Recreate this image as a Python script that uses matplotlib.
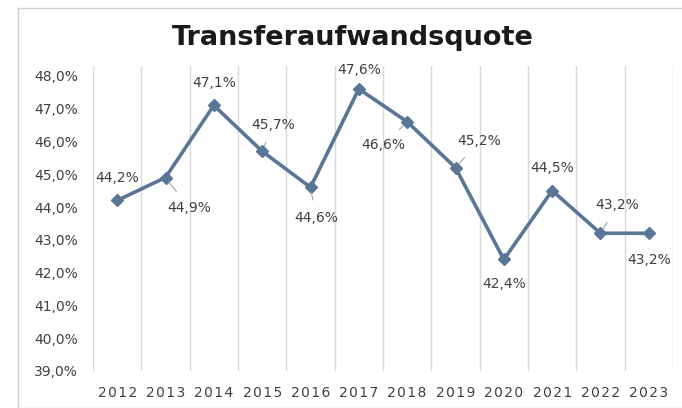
import matplotlib.pyplot as plt
from matplotlib.patches import Rectangle
from matplotlib.ticker import FuncFormatter

# Daten
years = ["2012", "2013", "2014", "2015", "2016", "2017",
         "2018", "2019", "2020", "2021", "2022", "2023"]
quote = [44.2, 44.9, 47.1, 45.7, 44.6, 47.6, 46.6, 45.2, 42.4, 44.5, 43.2, 43.2]
# Label-Versatz in Punkten (dx, dy) und ob eine Führungslinie gezeichnet wird
label_offsets = [(0, 16), (17, -22), (0, 16), (8, 19), (4, -22), (0, 14),
                 (-17, -17), (17, 19), (0, -18), (0, 16), (12, 20), (0, -19)]
leader = [False, True, False, True, True, False,
          True, True, False, False, True, False]

LINE_COLOR = "#5A7696"
TEXT_COLOR = "#404040"
GRID_COLOR = "#D9D9D9"

plt.rcParams["font.family"] = ["DejaVu Sans"]

fig = plt.figure(figsize=(6.82, 4.08), dpi=100)
fig.patches.append(Rectangle((18 / 682, 0), 1, 1 - 8 / 408, transform=fig.transFigure,
                             fill=False, edgecolor="#D0D0D0", linewidth=1))
ax = fig.add_axes([93 / 682, 37 / 408, 580 / 682, (371 - 66) / 408])

x = list(range(len(years)))
ax.plot(x, quote, color=LINE_COLOR, linewidth=2.6, marker="D", markersize=6,
        markerfacecolor=LINE_COLOR, markeredgecolor=LINE_COLOR, zorder=3)

for xi, val, (dx, dy), lead in zip(x, quote, label_offsets, leader):
    ax.annotate(f"{val:.1f}%".replace(".", ","), (xi, val), xytext=(dx, dy),
                textcoords="offset points", ha="center", va="center",
                fontsize=10, color=TEXT_COLOR,
                arrowprops=dict(arrowstyle="-", color="#A6A6A6", lw=0.8,
                                shrinkA=6, shrinkB=4) if lead else None)

ax.set_xlim(-0.5, len(years) - 0.5)
ax.set_ylim(39, 48.3)
ax.set_yticks(range(39, 49))
ax.yaxis.set_major_formatter(FuncFormatter(lambda v, _: f"{v:.1f}%".replace(".", ",")))
ax.set_xticks(x)
ax.set_xticklabels(["\u200a".join(y) for y in years])
for b in [i + 0.5 for i in range(-1, len(years))]:
    ax.axvline(b, color=GRID_COLOR, linewidth=1, zorder=0)

ax.tick_params(axis="both", length=0, labelsize=10, colors=TEXT_COLOR)
ax.tick_params(axis="y", pad=11)
ax.tick_params(axis="x", pad=11)
for s in ax.spines.values():
    s.set_visible(False)

fig.text(353 / 682, 1 - 38 / 408, "Transferaufwandsquote", ha="center", va="center",
         fontsize=19.5, fontweight="bold", color="#1A1A1A")

fig.savefig("out.png", dpi=100)
